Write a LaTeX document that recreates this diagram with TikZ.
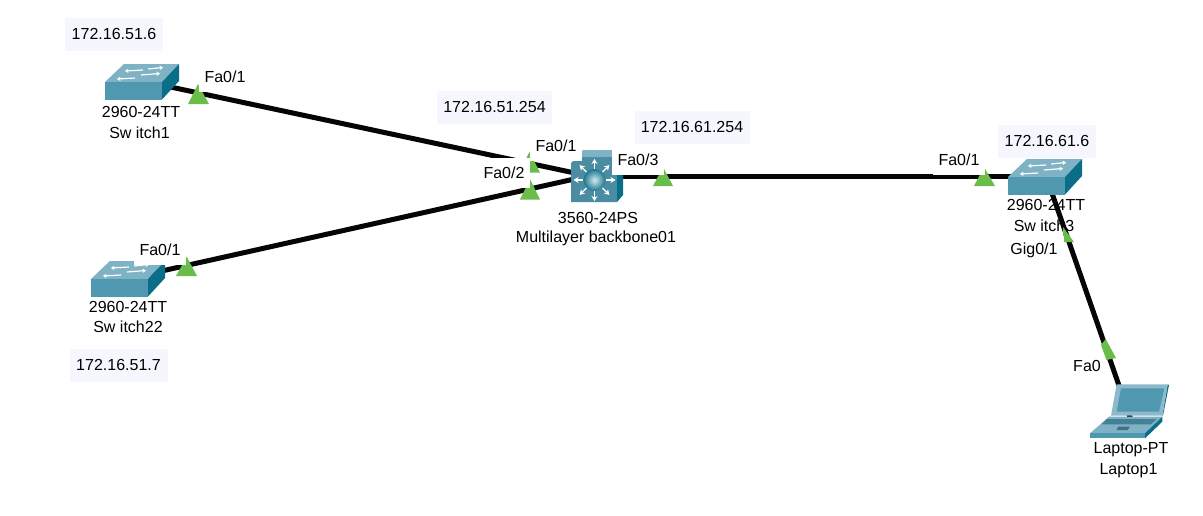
\documentclass[tikz,border=0pt]{standalone}
\usepackage{fontspec}
\setmainfont{Liberation Sans}
\usetikzlibrary{arrows.meta,calc}
\definecolor{icontop}{HTML}{7FB2C4}
\definecolor{iconfront}{HTML}{5098B0}
\definecolor{iconside}{HTML}{0B6E88}
\definecolor{ipbg}{HTML}{F6F7FE}
\definecolor{portgreen}{HTML}{6ABD4B}
\definecolor{linkblack}{HTML}{050505}
\definecolor{ballhi}{HTML}{D2E8EE}
\definecolor{balllo}{HTML}{1F768E}
\tikzset{
  txt/.style={font=\fontsize{16}{18}\selectfont,text=black,inner sep=0pt},
  devlabel/.style={txt},
  iplabel/.style={txt,fill=ipbg,minimum width=98,minimum height=33},
  portlabel/.style={txt,fill=white,minimum width=52,minimum height=30},
  netlink/.style={draw=linkblack,line width=5pt},
  porttri/.style={fill=portgreen,draw=none},
  whitearrow/.style={draw=white,line width=1.2pt,-{Stealth[length=3.5pt,width=4.5pt]}},
  bigarrow/.style={draw=white,line width=1.3pt,-{Stealth[length=5pt,width=6pt]}},
  switchicon/.pic={
    \fill[icontop] (0,18) -- (19,0) -- (74,0) -- (57,18) -- cycle;
    \fill[iconfront] (0,18) -- (57,18) -- (57,35.5) -- (0,35.5) -- cycle;
    \fill[iconside] (57,18) -- (74,0) -- (74,17) -- (57,35.5) -- cycle;
    \draw[whitearrow] (38,6) -- (20,7);
    \draw[whitearrow] (43,5) -- (58,3.5);
    \draw[whitearrow] (30,14) -- (12,15);
    \draw[whitearrow] (36,11) -- (55,9.5);
  }
}
\begin{document}
\begin{tikzpicture}[x=1pt,y=-1pt]
\useasboundingbox (0,0) rectangle (1203,515);
\fill[white] (0,0) rectangle (1203,515);

% anchors of the devices
\coordinate (sw1) at (140,80.5);
\coordinate (sw22) at (128,278.5);
\coordinate (sw3) at (1046,176);
\coordinate (bbup) at (596,177.5);
\coordinate (bbdown) at (596,174.2);
\coordinate (bbmid) at (596,176);
\coordinate (lap) at (1131,420);
\coordinate (ballc) at (594.5,180);

% device labels
\node[devlabel] (sw1a) at (141,112) {2960-24TT};
\node[devlabel] (sw1b) at (139.5,133) {Sw itch1};
\node[devlabel] (sw22a) at (128,307) {2960-24TT};
\node[devlabel] (sw22b) at (128,327) {Sw itch22};
\node[devlabel] (bba) at (598,218) {3560-24PS};
\node[devlabel] (bbb) at (596,238) {Multilayer backbone01};
\node[devlabel] (sw3a) at (1046,205) {2960-24TT};
\node[devlabel] (sw3b) at (1044,226) {Sw itch3};
\node[devlabel] (lapa) at (1131,450) {Laptop-PT};
\node[devlabel] (lapb) at (1128.5,471) {Laptop1};

% links
\draw[netlink] (sw1) -- (bbup);
\draw[netlink] (sw22) -- (bbdown);
\draw[netlink] (bbmid) -- (sw3);
\draw[netlink] (sw3) -- (lap);

% port markers
\fill[porttri] (198,84) -- (188,104) -- (209,104) -- cycle;
\fill[porttri] (529.5,152) -- (519,172.5) -- (540,172.5) -- cycle;
\fill[porttri] (530,179) -- (520,199.5) -- (540,199.5) -- cycle;
\fill[porttri] (663,167) -- (653,186) -- (673,186) -- cycle;
\fill[porttri] (984,167) -- (974,186) -- (995,186) -- cycle;
\fill[porttri] (186.7,256.7) -- (176,276) -- (197,276) -- cycle;
\fill[porttri] (1063,227) -- (1074,242) -- (1063,242) -- cycle;
\fill[porttri] (1105.7,339) -- (1101,345) -- (1106.5,360) -- (1116,358) -- cycle;

% switches
\pic at (105,64) {switchicon};
\pic at (91,261) {switchicon};
\pic at (1008,159) {switchicon};

% multilayer switch
\fill[iconfront!92!black] (571,163) -- (577,157) -- (617,157) -- (617,202) -- (571,202) -- cycle;
\fill[icontop] (577,157) -- (583,150) -- (623,150) -- (617,157) -- cycle;
\fill[iconside] (617,157) -- (623,150) -- (623,195) -- (617,202) -- cycle;
\foreach \a in {0,45,...,315}{
  \draw[bigarrow] ($(ballc)+(\a:11)$) -- ($(ballc)+(\a:21)$);
}
\shade[inner color=ballhi,outer color=balllo] (ballc) circle (11);

% laptop
\begin{scope}[shift={(1085,375)},x=0.3333pt,y=-0.3333pt]
  \fill[iconside] (232,122) -- (248,28) -- (252,30) -- (234,122) -- cycle;
  \fill[icontop!90!white] (95,28) -- (248,28) -- (232,122) -- (78,122) -- cycle;
  \fill[iconfront] (108,40) -- (238,40) -- (222,110) -- (95,110) -- cycle;
  \fill[icontop] (72,125) -- (232,125) -- (180,175) -- (15,175) -- cycle;
  \fill[iconfront!85!black] (65,132) -- (215,132) -- (198,148) -- (50,148) -- cycle;
  \fill[iconfront!75!black] (100,155) -- (135,155) -- (128,165) -- (95,165) -- cycle;
  \fill[iconfront] (15,175) -- (180,175) -- (180,190) -- (15,190) -- cycle;
  \fill[iconside] (180,175) -- (232,125) -- (232,140) -- (180,190) -- cycle;
\end{scope}

% port labels
\node[portlabel] (p1) at (225,77) {Fa0/1};
\node[portlabel] (p2) at (556,146) {Fa0/1};
\node[portlabel] (p3) at (504,173) {Fa0/2};
\node[portlabel] (p4) at (638,160) {Fa0/3};
\node[portlabel] (p5) at (959,160) {Fa0/1};
\node[portlabel] (p6) at (160,250) {Fa0/1};
\node[portlabel,minimum width=60,minimum height=28] (p7) at (1034,250) {Gig0/1};
\node[portlabel,minimum width=30] (p8) at (1087,366) {Fa0};

% address labels
\node[iplabel] (ip1) at (114,34) {172.16.51.6};
\node[iplabel,minimum width=115] (ip2) at (494.5,107) {172.16.51.254};
\node[iplabel,minimum width=115] (ip3) at (692,127) {172.16.61.254};
\node[iplabel] (ip4) at (1047,141) {172.16.61.6};
\node[iplabel] (ip5) at (118.5,365) {172.16.51.7};
\end{tikzpicture}
\end{document}
